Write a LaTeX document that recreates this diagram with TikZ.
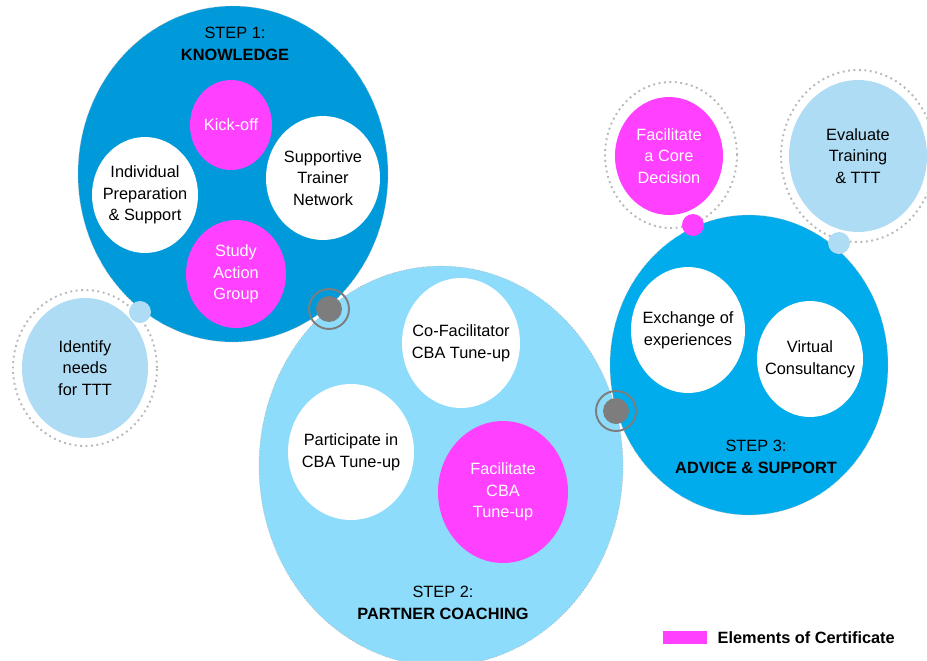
\documentclass[tikz,border=0pt]{standalone}
\usepackage{fontspec}
\setmainfont{Liberation Sans}
\usetikzlibrary{positioning, shapes.geometric}
\definecolor{knowblue}{RGB}{0,154,218}
\definecolor{coachblue}{RGB}{142,220,251}
\definecolor{adviceblue}{RGB}{0,172,236}
\definecolor{paleblue}{RGB}{174,220,244}
\definecolor{certpink}{RGB}{255,64,255}
\definecolor{hubgray}{RGB}{125,125,125}

\begin{document}
\begin{tikzpicture}[x=0.02cm, y=-0.02cm,
    every node/.style={font=\fontsize{9.3}{12.3}\selectfont, align=center},
    stage/.style={ellipse, draw=gray!60, densely dotted, inner sep=0pt},
    certnode/.style={ellipse, inner sep=0pt, fill=certpink, label={[text=white]center:#1}},
    tasknode/.style={ellipse, inner sep=0pt, fill=white, label={center:#1}},
    sidenode/.style={ellipse, inner sep=0pt, fill=paleblue, label={center:#1}},
    halo/.style={ellipse, draw=gray!55, dotted, line width=1.1pt, inner sep=0pt},
    knot/.style={circle, fill=#1, minimum size=0.44cm, inner sep=0pt},
    hub/.style={circle, fill=hubgray, minimum size=0.52cm, inner sep=0pt},
    hubring/.style={circle, draw=hubgray, line width=1.1pt, minimum size=0.8cm, inner sep=0pt},
    steplabel/.style={font=\fontsize{9.3}{12.5}\selectfont},
]
    \useasboundingbox (0,0) rectangle (927,660);

    % Step 2: partner coaching (lies below the other two)
    \node[stage, fill=coachblue, minimum width=7.28cm, minimum height=8cm] (coach) at (441,466) {};
    \node[tasknode={Co-Facilitator\\CBA Tune-up}, minimum width=2.36cm, minimum height=2.6cm] (cofac) at (461,343) {};
    \node[tasknode={Participate in\\CBA Tune-up}, minimum width=2.52cm, minimum height=2.72cm] (partic) at (351,452) {};
    \node[certnode={Facilitate\\CBA\\Tune-up}, minimum width=2.6cm, minimum height=2.84cm] (faccba) at (503,492) {};
    \node[steplabel] (coachlbl) at (443,603) {STEP 2:\\\textbf{PARTNER COACHING}};

    % Step 1: knowledge
    \node[stage, fill=knowblue, minimum width=6.2cm, minimum height=6.72cm] (know) at (233,174) {};
    \node[steplabel] (knowlbl) at (235,44) {STEP 1:\\\textbf{KNOWLEDGE}};
    \node[certnode={Kick-off}, minimum width=1.64cm, minimum height=1.8cm] (kick) at (231,125) {};
    \node[tasknode={Individual\\Preparation\\\& Support}, minimum width=2.12cm, minimum height=2.32cm] (indiv) at (145,195) {};
    \node[tasknode={Supportive\\Trainer\\Network}, minimum width=2.28cm, minimum height=2.48cm] (trainer) at (323,178) {};
    \node[certnode={Study\\Action\\Group}, minimum width=2cm, minimum height=2.16cm] (study) at (236,274) {};

    % Step 3: advice and support
    \node[stage, fill=adviceblue, minimum width=5.56cm, minimum height=6cm] (advice) at (749,365) {};
    \node[tasknode={Exchange of\\experiences}, minimum width=2.28cm, minimum height=2.52cm] (exch) at (688,330) {};
    \node[tasknode={Virtual\\Consultancy}, minimum width=2.12cm, minimum height=2.32cm] (virt) at (810,359) {};
    \node[steplabel] (advicelbl) at (756,457) {STEP 3:\\\textbf{ADVICE \& SUPPORT}};

    % Side circles with dotted halos
    \node[halo, minimum width=2.88cm, minimum height=3.12cm] (identhalo) at (85,368) {};
    \node[sidenode={Identify\\needs\\for TTT}, minimum width=2.52cm, minimum height=2.8cm] (ident) at (85,368) {};
    \node[halo, minimum width=2.64cm, minimum height=2.92cm] (corehalo) at (671,155) {};
    \node[certnode={Facilitate\\a Core\\Decision}, minimum width=2.16cm, minimum height=2.36cm] (core) at (669,156) {};
    \node[halo, minimum width=3.08cm, minimum height=3.44cm] (evalhalo) at (858,156) {};
    \node[sidenode={Evaluate\\Training\\\& TTT}, minimum width=2.76cm, minimum height=3.04cm] (eval) at (858,156) {};

    % Small joining dots
    \node[knot=paleblue] (identknot) at (140,312) {};
    \node[knot=certpink] (coreknot) at (693,225) {};
    \node[knot=paleblue] (evalknot) at (839,243) {};

    % Hubs between the steps
    \node[hubring] (hubA) at (329,309) {};
    \node[hub] at (hubA) {};
    \node[hubring] (hubB) at (616,411) {};
    \node[hub] at (hubB) {};

    % Legend
    \node[fill=certpink, minimum width=0.88cm, minimum height=0.26cm, inner sep=0pt] (legkey) at (685,637.5) {};
    \node[right=0.2cm of legkey, inner sep=0pt] (legtext) {\textbf{Elements of Certificate}};
\end{tikzpicture}
\end{document}
